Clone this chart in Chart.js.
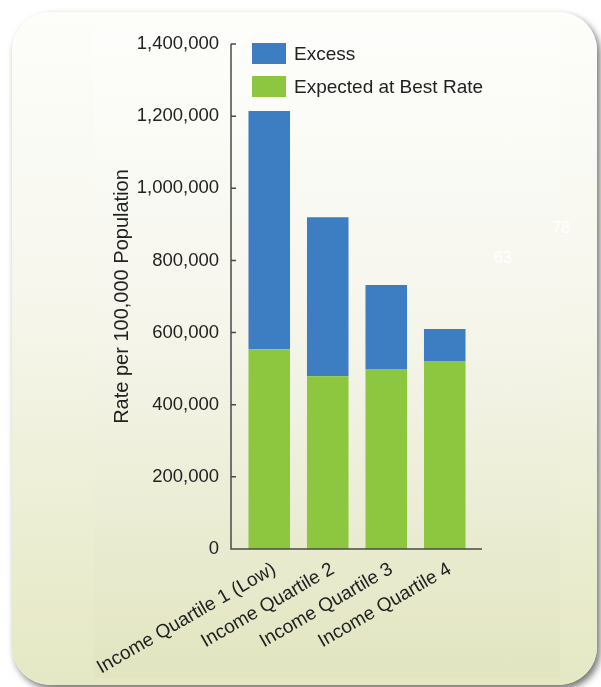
<!DOCTYPE html>
<html lang="en">
<head>
<meta charset="UTF-8" />
<title>Rate per 100,000 Population by Income Quartile</title>
<script src="https://cdn.jsdelivr.net/npm/chart.js"></script>
<style>
  html, body { margin: 0; padding: 0; background: #fff; }
  body {
    width: 601px; height: 687px; position: relative; overflow: hidden;
    font-family: "Liberation Sans", Arial, Helvetica, sans-serif;
  }
  .card {
    position: absolute; left: 12px; top: 12px; width: 585px; height: 673px;
    border-radius: 38px;
    background: linear-gradient(#fdfdfa 0%, #f7f7ee 40%, #eceed4 75%, #e5e8c3 100%);
    box-shadow: 3px 4px 7px rgba(0, 0, 0, 0.55);
  }
  .panel {
    position: absolute; left: 94px; top: 30px; width: 466px; height: 648px;
    background: linear-gradient(rgba(255, 255, 255, 0.3), rgba(120, 120, 60, 0.03));
  }
  #chart { position: absolute; left: 0; top: 0; }
  .legend { position: absolute; left: 252px; top: 43px; }
  .legend-item { display: flex; align-items: center; height: 21px; margin-bottom: 12px; }
  .legend-box { width: 34px; height: 21px; margin-right: 8px; }
  .legend-text { font-size: 19px; color: #222; }
  .stray { position: absolute; color: #fff; font-size: 16px; }
</style>
</head>
<body>
<div class="card"></div>
<div class="panel"></div>
<span class="stray" style="left:552px;top:219px;">78</span>
<span class="stray" style="left:494px;top:249px;">63</span>
<canvas id="chart" width="601" height="687"></canvas>
<div class="legend" id="legend"></div>

<script>
  const categories = [
    "Income Quartile 1 (Low)",
    "Income Quartile 2",
    "Income Quartile 3",
    "Income Quartile 4",
  ];
  const expectedAtBestRate = [554000, 479000, 499000, 521000];
  const excess = [660000, 441000, 233000, 89000];
  const yMax = 1400000;
  const yStep = 200000;

  const blue = "#3d7ec2";
  const green = "#8dc73f";
  const axisColor = "#4a4a4a";
  const textColor = "#222";

  // axis lines sit a little outside the category band, so draw them by hand
  const offsetAxes = {
    id: "offsetAxes",
    afterDatasetsDraw(chart) {
      const { ctx, chartArea, scales: { y } } = chart;
      const ax = chartArea.left - 9;
      const bottom = y.getPixelForValue(0);
      ctx.save();
      ctx.strokeStyle = axisColor;
      ctx.lineWidth = 1.5;
      ctx.beginPath();
      ctx.moveTo(ax, y.getPixelForValue(y.max));
      ctx.lineTo(ax, bottom);
      ctx.lineTo(chartArea.right + 8, bottom);
      y.ticks.forEach((t) => {
        const py = y.getPixelForValue(t.value);
        ctx.moveTo(ax, py);
        ctx.lineTo(ax + 5, py);
      });
      ctx.stroke();
      ctx.restore();
    },
  };

  const chart = new Chart(document.getElementById("chart"), {
    type: "bar",
    data: {
      labels: categories,
      datasets: [
        { label: "Expected at Best Rate", data: expectedAtBestRate, backgroundColor: green },
        { label: "Excess", data: excess, backgroundColor: blue },
      ],
    },
    options: {
      responsive: false,
      animation: false,
      layout: { padding: { left: 100, top: 44, right: 127, bottom: 0 } },
      datasets: { bar: { barPercentage: 0.71, categoryPercentage: 1 } },
      plugins: { legend: { display: false }, tooltip: { enabled: false } },
      scales: {
        x: {
          stacked: true,
          grid: { display: false },
          border: { display: false },
          ticks: {
            color: textColor,
            font: { family: "'Liberation Sans', Arial, sans-serif", size: 19 },
            minRotation: 30,
            maxRotation: 30,
            autoSkip: false,
            padding: 1,
            labelOffset: 5,
          },
          afterFit(scale) {
            scale.height = 138;
          },
        },
        y: {
          stacked: true,
          min: 0,
          max: yMax,
          grid: { display: false },
          border: { display: false },
          ticks: {
            stepSize: yStep,
            color: textColor,
            padding: 13,
            font: { family: "'Liberation Sans', Arial, sans-serif", size: 18.5 },
            callback: (v) => v.toLocaleString("en-US"),
          },
          title: {
            display: true,
            text: "Rate per 100,000 Population",
            color: textColor,
            padding: { top: 10, bottom: 0 },
            font: { family: "'Liberation Sans', Arial, sans-serif", size: 20 },
          },
          afterFit(scale) {
            scale.width = 140;
          },
        },
      },
    },
    plugins: [offsetAxes],
  });

  // legend lists the top segment first
  const legend = document.getElementById("legend");
  chart.data.datasets.slice().reverse().forEach((ds) => {
    legend.innerHTML += `
      <div class="legend-item">
        <div class="legend-box" style="background:${ds.backgroundColor}"></div>
        <span class="legend-text">${ds.label}</span>
      </div>`;
  });
</script>
</body>
</html>
